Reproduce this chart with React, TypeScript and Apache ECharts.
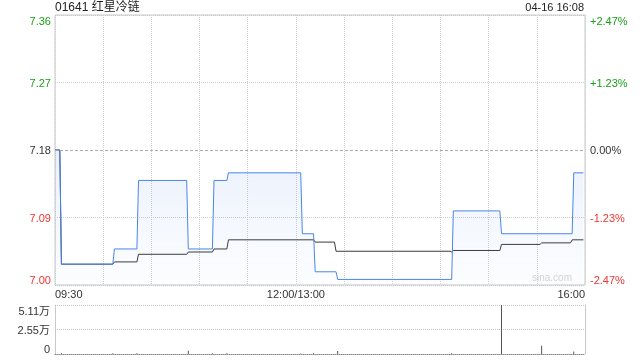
import React, { useEffect, useRef } from "react";
import * as echarts from "echarts";

// ---- data ----
const stockCode = "01641";
const stockName = "红星冷链";
const stampText = "04-16 16:08";
const prevClose = 7.18;
const maxPct = 2.47;
const priceTicks = ["7.00", "7.09", "7.18", "7.27", "7.36"];
const pctTicks = ["-2.47%", "-1.23%", "0.00%", "+1.23%", "+2.47%"];
const volTicks = ["0", "2.55万", "5.11万"];
const volMax = 51100;
const timeTickMinutes = [0, 150, 330];
const timeTickLabels = ["09:30", "12:00/13:00", "16:00"];

const priceMinutes = [0, 3, 4, 36, 37, 51, 52, 82, 83, 98, 99, 107, 108, 153, 154, 161, 162, 175, 176, 247, 248, 277, 278, 322, 323, 329];
const priceValues = [7.18, 7.18, 7.03, 7.03, 7.05, 7.05, 7.14, 7.14, 7.05, 7.05, 7.14, 7.14, 7.15, 7.15, 7.07, 7.07, 7.02, 7.02, 7.01, 7.01, 7.10, 7.10, 7.07, 7.07, 7.15, 7.15];

const avgMinutes = [0, 3, 4, 36, 37, 51, 52, 82, 83, 98, 99, 107, 108, 161, 162, 174, 175, 246, 247, 248, 277, 278, 302, 303, 321, 322, 329];
const avgValues = [7.18, 7.18, 7.03, 7.03, 7.033, 7.033, 7.043, 7.043, 7.046, 7.046, 7.05, 7.05, 7.062, 7.062, 7.059, 7.059, 7.047, 7.047, 7.046, 7.048, 7.048, 7.056, 7.056, 7.058, 7.058, 7.062, 7.062];

const volMinutes = [4, 36, 51, 83, 98, 107, 153, 161, 176, 247, 278, 303, 323];
const volValues = [800, 700, 700, 3500, 700, 700, 600, 800, 3000, 700, 51100, 8700, 2700];

const GREEN = "#1a9e1a";
const RED = "#f03333";
const DARK = "#333333";
const FONT = "'Liberation Sans', Arial, 'Noto Sans CJK SC', sans-serif";

const norm = (p: number) => ((p - prevClose) / ((prevClose * maxPct) / 100)) * 2;
const tickColor = (v: number) => (v > 0.001 ? GREEN : v < -0.001 ? RED : DARK);

export default function App() {
  const ref = useRef<HTMLDivElement>(null);
  useEffect(() => {
    if (!ref.current) return;
    const chart = echarts.init(ref.current, null, { renderer: "svg" });
    const priceData = priceMinutes.map((t, i) => [t, norm(priceValues[i])]);
    const avgData = avgMinutes.map((t, i) => [t, norm(avgValues[i])]);
    const volData = volMinutes.map((t, i) => [t, volValues[i]]);
    chart.setOption({
      animation: false,
      textStyle: { fontFamily: FONT },
      grid: [
        { left: 55, right: 55, top: 15, height: 270, show: true, borderColor: "#c8c8c8", borderWidth: 1, backgroundColor: "transparent" },
        { left: 55, right: 55, top: 305, height: 49 },
      ],
      graphic: [
        { type: "text", left: 55, top: 1, style: { text: `${stockCode} ${stockName}`, fill: "#222", font: `12px ${FONT}` } },
        { type: "text", right: 56, top: 1, style: { text: stampText, fill: "#222", font: `11px ${FONT}` } },
        { type: "text", left: 532, top: 272, z: 0, style: { text: "sina.com", fill: "#d4d4d4", font: `10px ${FONT}` } },
      ],
      xAxis: [
        {
          type: "value", gridIndex: 0, min: 0, max: 330, interval: 30,
          axisLine: { show: false }, axisTick: { show: false },
          splitLine: { show: true, lineStyle: { type: "dotted", color: "#d0d0d0" } },
          axisLabel: {
            show: true, fontSize: 11, color: DARK, margin: 3,
            alignMinLabel: "left", alignMaxLabel: "right",
            formatter: (v: number) => {
              const i = timeTickMinutes.indexOf(v);
              return i >= 0 ? timeTickLabels[i] : "";
            },
          },
        },
        {
          type: "value", gridIndex: 1, min: 0, max: 330, interval: 30,
          axisLine: { show: true, lineStyle: { type: "dotted", color: "#888" } },
          axisTick: { show: false }, splitLine: { show: false }, axisLabel: { show: false },
        },
      ],
      yAxis: [
        {
          type: "value", gridIndex: 0, min: -2, max: 2, interval: 1, position: "left",
          axisLine: { show: false }, axisTick: { show: false },
          splitLine: { show: true, lineStyle: { type: "dotted", color: ["#c8c8c8", "#d0d0d0", "rgba(0,0,0,0)", "#d0d0d0", "#c8c8c8"] } },
          axisLabel: {
            fontSize: 11, margin: 4, color: (v: number) => tickColor(Number(v)),
            verticalAlignMinLabel: "bottom", verticalAlignMaxLabel: "top",
            formatter: (v: number) => priceTicks[Math.round(v) + 2],
          },
        },
        {
          type: "value", gridIndex: 0, min: -2, max: 2, interval: 1, position: "right",
          axisLine: { show: false }, axisTick: { show: false }, splitLine: { show: false },
          axisLabel: {
            fontSize: 11, margin: 5, color: (v: number) => tickColor(Number(v)),
            verticalAlignMinLabel: "bottom", verticalAlignMaxLabel: "top",
            formatter: (v: number) => pctTicks[Math.round(v) + 2],
          },
        },
        {
          type: "value", gridIndex: 1, min: 0, max: volMax, interval: volMax / 2, position: "left",
          axisLine: { show: true, lineStyle: { color: "#c8c8c8" } }, axisTick: { show: false },
          splitLine: { show: true, lineStyle: { type: "dotted", color: ["rgba(0,0,0,0)", "#c8c8c8", "#c8c8c8"] } },
          axisLabel: {
            fontSize: 11, margin: 5, color: DARK,
            verticalAlignMinLabel: "bottom", verticalAlignMaxLabel: "top",
            formatter: (v: number) => volTicks[Math.round(v / (volMax / 2))],
          },
        },
        {
          type: "value", gridIndex: 1, min: 0, max: volMax, interval: volMax / 2, position: "right",
          axisLine: { show: true, lineStyle: { color: "#c8c8c8" } }, axisTick: { show: false },
          splitLine: { show: false }, axisLabel: { show: false },
        },
      ],
      series: [
        {
          type: "line", xAxisIndex: 0, yAxisIndex: 0, data: avgData, symbol: "none", z: 2,
          lineStyle: { color: "#3a3a3a", width: 1 },
        },
        {
          type: "line", xAxisIndex: 0, yAxisIndex: 0, data: priceData, symbol: "none", z: 3,
          lineStyle: { color: "#4a86e8", width: 1 },
          areaStyle: {
            origin: "start",
            color: new echarts.graphic.LinearGradient(0, 0, 0, 1, [
              { offset: 0, color: "rgba(74,134,232,0.16)" },
              { offset: 1, color: "rgba(74,134,232,0.02)" },
            ]),
          },
          markLine: {
            silent: true, symbol: "none", label: { show: false },
            lineStyle: { type: [3, 2], color: "#aaaaaa", width: 1 },
            data: [{ yAxis: 0 }],
          },
        },
        {
          type: "bar", xAxisIndex: 1, yAxisIndex: 2, data: volData, barWidth: 1,
          itemStyle: { color: "#555555" },
        },
      ],
    });
    return () => chart.dispose();
  }, []);
  return <div ref={ref} style={{ position: "fixed", left: 0, top: 0, width: 640, height: 360 }} />;
}
